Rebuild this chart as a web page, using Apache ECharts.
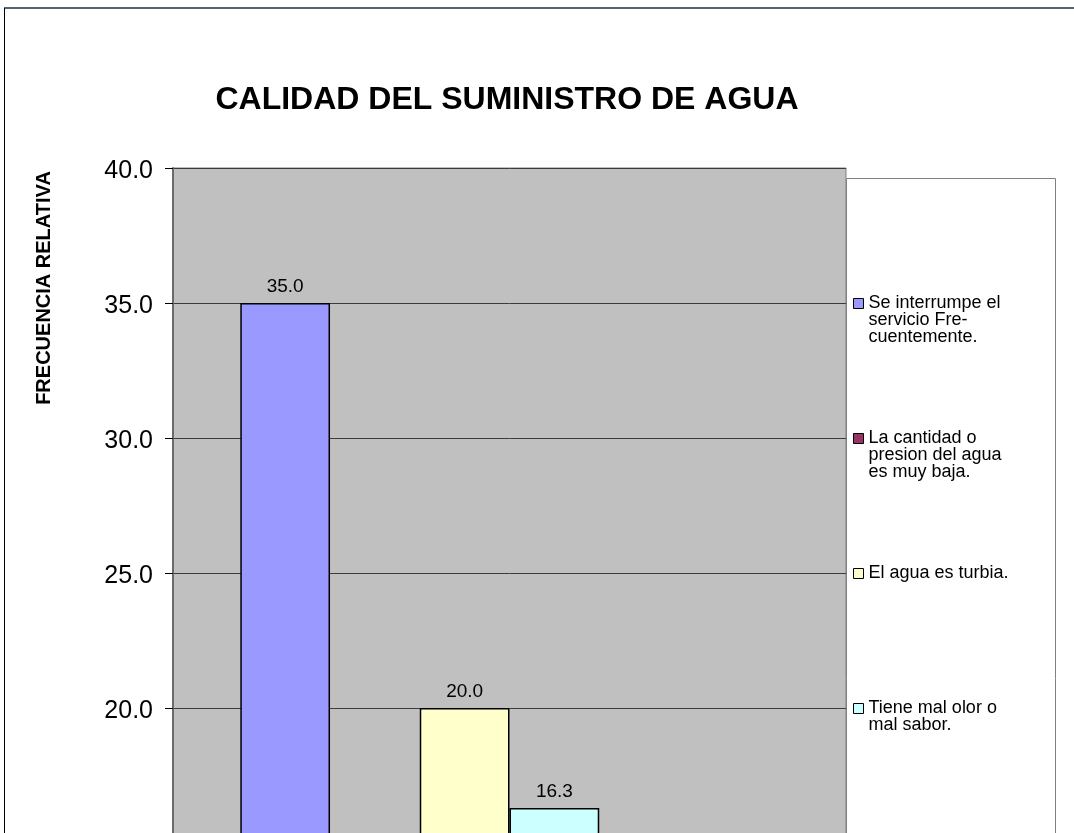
<!DOCTYPE html>
<html>
<head>
<meta charset="utf-8">
<title>Calidad del suministro de agua</title>
<script src="https://cdn.jsdelivr.net/npm/echarts@6/dist/echarts.min.js"></script>
<style>
	html, body { margin: 0; padding: 0; background: #fff; overflow: hidden; }
	#echarts1 { width: 1074px; height: 1300px; }
</style>
</head>
<body>
<div id="echarts1"></div>
<script>
var categorias = [''];
var nombres = [
	'Se interrumpe el\nservicio Fre-\ncuentemente.',
	'La cantidad o\npresion del agua\nes muy baja.',
	'El agua es turbia.',
	'Tiene mal olor o\nmal sabor.',
	'Otros.',
	'No sabe.'
];
var valores = [35.0, 11.3, 20.0, 16.3, 10.0, 7.4];
var colores = ['#9999ff', '#993366', '#ffffcc', '#ccffff', '#660066', '#ff8080'];
var yMin = 0, yMax = 40, yPaso = 5;

var fuente = "'Liberation Sans', Arial, sans-serif";
var altoLinea = 17;

var myChart1 = echarts.init(document.getElementById('echarts1'));

var series = [];
var leyendas = [];
for (var i = 0; i < nombres.length; i++) {
	series.push({
		name: nombres[i],
		type: 'bar',
		data: [valores[i]],
		barGap: 0,
		barCategoryGap: '20%',
		itemStyle: {
			color: colores[i],
			borderColor: '#000',
			borderWidth: 1.5
		},
		label: {
			show: true,
			position: 'top',
			distance: 7,
			color: '#000',
			fontFamily: fuente,
			fontSize: 19,
			formatter: function (p) { return p.value.toFixed(1); }
		}
	});
	// el cuadrito va con la primera linea del texto
	var n = nombres[i].split('\n').length;
	leyendas.push({
		data: [nombres[i]],
		left: 853,
		top: 303 + 135 * i - (2 * n - 1) * altoLinea / 2,
		padding: 0,
		itemWidth: 10,
		itemHeight: 10,
		icon: 'rect',
		itemGap: 5,
		selectedMode: false,
		z: 20,
		itemStyle: { borderColor: '#000', borderWidth: 1 },
		textStyle: {
			color: '#000',
			fontFamily: fuente,
			fontSize: 18,
			lineHeight: altoLinea
		},
		formatter: function (name) {
			var k = name.split('\n').length;
			return new Array(k).join('\n') + name;
		}
	});
}

option1 = {
	animation: false,
	backgroundColor: '#fff',
	title: {
		text: 'CALIDAD DEL SUMINISTRO DE AGUA',
		left: 502,
		top: 79,
		textAlign: 'center',
		textStyle: {
			color: '#000',
			fontFamily: fuente,
			fontWeight: 'bold',
			fontSize: 32
		}
	},
	grid: {
		left: 173,
		top: 168,
		width: 673,
		height: 1080,
		show: true,
		backgroundColor: '#c0c0c0',
		borderColor: '#808080',
		borderWidth: 1
	},
	xAxis: {
		type: 'category',
		data: categorias,
		axisLine: { lineStyle: { color: '#000' } },
		axisTick: { show: false },
		axisLabel: { show: false }
	},
	yAxis: {
		type: 'value',
		min: yMin,
		max: yMax,
		interval: yPaso,
		axisLine: {
			show: true,
			lineStyle: { color: '#6a6a6a', width: 2 }
		},
		axisTick: {//marcas hacia afuera
			show: true,
			inside: false,
			length: 8,
			lineStyle: { color: '#000' }
		},
		axisLabel: {
			margin: 20,
			formatter: function (v) { return '{v|' + v.toFixed(1) + '}'; },
			rich: {
				v: {
					color: '#000',
					fontFamily: fuente,
					fontSize: 25,
					padding: [6, 0, 0, 0]
				}
			}
		},
		splitLine: {
			show: true,
			lineStyle: { color: '#3c3c3c', width: 1 }
		}
	},
	legend: leyendas,
	series: series,
	graphic: [
		{
			type: 'rect',
			z: 10,
			shape: { x: 846.5, y: 178.5, width: 209, height: 1000 },
			style: { fill: '#fff', stroke: '#808080', lineWidth: 1 }
		},
		{
			type: 'line',
			z: 10,
			shape: { x1: 4, y1: 8, x2: 1074, y2: 8 },
			style: { stroke: '#56646b', lineWidth: 2 }
		},
		{
			type: 'line',
			z: 10,
			shape: { x1: 4.5, y1: 8, x2: 4.5, y2: 1300 },
			style: { stroke: '#000', lineWidth: 1 }
		},
		{
			type: 'text',
			z: 10,
			x: 44,
			y: 288,
			rotation: Math.PI / 2,
			style: {
				text: 'FRECUENCIA RELATIVA',
				fill: '#000',
				font: 'bold 20px ' + fuente,
				textAlign: 'center',
				textVerticalAlign: 'middle'
			}
		}
	]
};
myChart1.setOption(option1);
</script>
</body>
</html>
